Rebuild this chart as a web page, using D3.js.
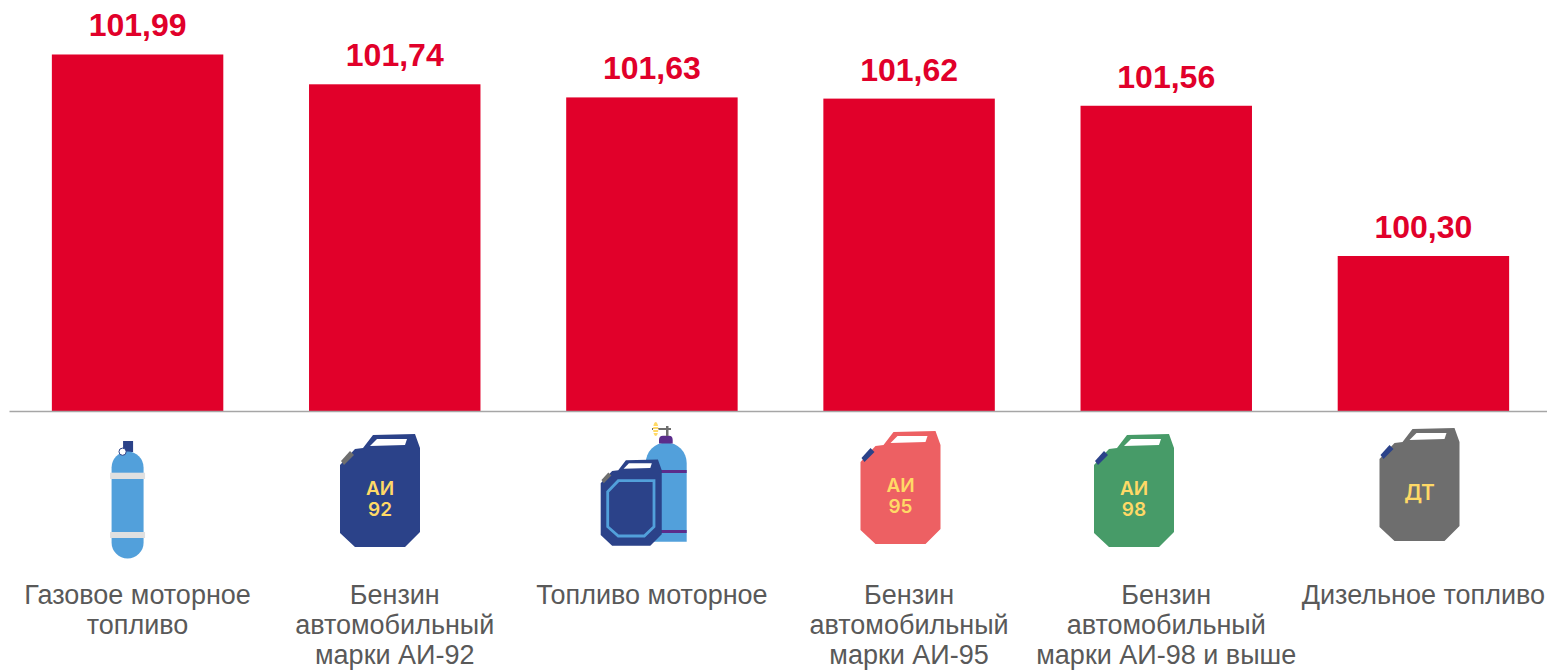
<!DOCTYPE html>
<html lang="ru"><head><meta charset="utf-8">
<script src="https://cdn.jsdelivr.net/npm/d3@7"></script>
<style>html,body{margin:0;padding:0;background:#fff;overflow:hidden}svg{display:block}</style>
</head><body><svg id="c" width="1547" height="671"></svg>
<script>
const categories = ["Газовое моторное|топливо","Бензин|автомобильный|марки АИ-92","Топливо моторное","Бензин|автомобильный|марки АИ-95","Бензин|автомобильный|марки АИ-98 и выше","Дизельное топливо"];
const values = [101.99,101.74,101.63,101.62,101.56,100.30];
const axisMin = 99, axisMax = 102;

const svg = d3.select("#c");
const x = d3.scaleBand().domain(categories).range([9,1552]).paddingInner(1/3).paddingOuter(1/6);
const y = d3.scaleLinear().domain([axisMin,axisMax]).range([411,53.3]);
const fmt = d3.formatLocale({decimal:",",thousands:" ",grouping:[3],currency:["",""]}).format(".2f");
const RED="#E1002A", NAVY="#2B4289", YEL="#FFD966", BLUE="#52A0DB", PUR="#5B2C8B", GR="#6E6E6E";

svg.selectAll("rect.bar").data(values).join("rect").attr("class","bar")
  .attr("x",(d,i)=>x(categories[i])).attr("width",x.bandwidth())
  .attr("y",d=>y(d)).attr("height",d=>y(axisMin)-y(d)).attr("fill",RED);

svg.selectAll("text.val").data(values).join("text").attr("class","val")
  .attr("x",(d,i)=>x(categories[i])+x.bandwidth()/2).attr("y",d=>y(d)-18)
  .attr("text-anchor","middle").attr("fill",RED)
  .attr("font-family","'Liberation Sans',Arial,sans-serif").attr("font-weight","bold").attr("font-size",32)
  .text(d=>fmt(d));

const ax = svg.append("g").attr("transform",`translate(0,${y(axisMin)})`).call(d3.axisBottom(x).tickSize(0).tickFormat(""));
ax.select(".domain").attr("stroke","#A6A6A6").attr("stroke-width",1.4);
ax.selectAll(".tick text").remove();
ax.selectAll(".tick").each(function(c){
  const t=d3.select(this).append("text").attr("text-anchor","middle").attr("fill","#595959")
    .attr("font-family","'Liberation Sans',Arial,sans-serif").attr("font-size",27);
  c.split("|").forEach((l,i)=>t.append("tspan").attr("x",0).attr("y",193+i*30).text(l));
});

// Decorative canister icon, drawn in its own 80×113 box
function can(g,body,cap,label,fs){
  g.append("path").attr("d","M0,31L15,15L23,14L33,1L75,0L80,14V98L65,113H15L0,99Z").attr("fill",body);
  g.append("path").attr("d","M30,12L37,5H67L65,11Z").attr("fill","#fff");
  g.append("path").attr("d","M1,27L10,17L14,21L4,31Z").attr("fill",cap);
  if(label){
    const t=g.append("text").attr("text-anchor","middle").attr("fill",YEL)
      .attr("font-family","Inter,'Noto Sans',sans-serif").attr("font-weight",600).attr("font-size",fs);
    label.forEach((l,i)=>t.append("tspan").attr("x",40).attr("y",(label.length==1?72:61)+i*21).text(l));
  }
}
const at=(px,py,s)=>svg.append("g").attr("transform",`translate(${px},${py})`+(s?` scale(${s})`:""));
const center=i=>x(categories[i])+x.bandwidth()/2;

// gas cylinder
{ const g=at(center(0),0);
  g.append("rect").attr("x",-14.5).attr("y",441).attr("width",10).attr("height",11).attr("fill",NAVY);
  g.append("rect").attr("x",-26).attr("y",451.5).attr("width",32).attr("height",107).attr("rx",16).attr("fill",BLUE);
  g.append("rect").attr("x",-27.5).attr("y",472.7).attr("width",35).attr("height",6.3).attr("fill","#E0E0E0");
  g.append("rect").attr("x",-27.5).attr("y",532).attr("width",35).attr("height",6).attr("fill","#E0E0E0");
  g.append("circle").attr("cx",-15).attr("cy",451.7).attr("r",3.6).attr("fill","#fff").attr("stroke",NAVY).attr("stroke-width",1);
}
can(at(340,434),NAVY,GR,["АИ","92"],19);
// mixed: cylinder + canister
{ const g=at(0,0);
  g.append("path").attr("d","M645.7,541.7V463A20.5,20.5 0 0 1 686.7,463V541.7Z").attr("fill",BLUE);
  g.append("rect").attr("x",645.7).attr("y",470).attr("width",41).attr("height",3).attr("fill",PUR);
  g.append("rect").attr("x",645.7).attr("y",530).attr("width",41).attr("height",3).attr("fill",PUR);
  g.append("path").attr("d","M659,443.5V440Q659,435.7 663,435.7H669Q672.7,435.7 672.7,440V443.5Z").attr("fill",PUR);
  g.append("rect").attr("x",666).attr("y",426).attr("width",2.5).attr("height",10).attr("fill",GR);
  g.append("rect").attr("x",652).attr("y",428).attr("width",19).attr("height",2).attr("fill",GR);
  g.append("ellipse").attr("cx",655.7).attr("cy",429).attr("rx",2.6).attr("ry",7).attr("fill",YEL);
  [426,429,432].forEach(v=>g.append("rect").attr("x",653).attr("y",v).attr("width",5.4).attr("height",1).attr("fill","#fff"));
}
can(at(600.7,459.5,0.763),NAVY,GR);
svg.append("path").attr("d","M607.7,491.7L618.3,480.7H654V526.7L644.3,536H618.3L607.7,526.7Z")
  .attr("fill","none").attr("stroke",BLUE).attr("stroke-width",2.8);
can(at(860.5,431),"#ED6063",NAVY,["АИ","95"],19);
can(at(1094,434),"#479B68",NAVY,["АИ","98"],19);
can(at(1379.5,428),GR,NAVY,["ДТ"],21);
</script></body></html>
